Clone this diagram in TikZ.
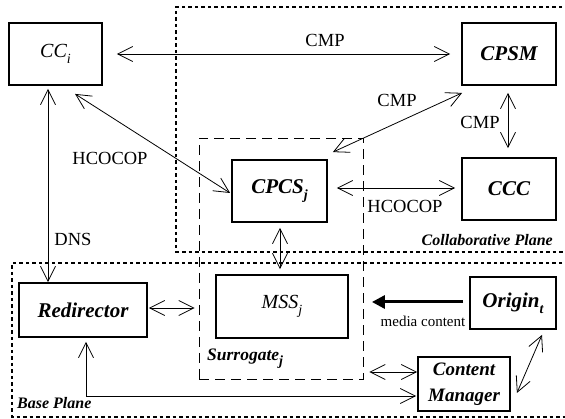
\documentclass[tikz,border=0pt]{standalone}
\usepackage{fontspec}
\setmainfont{Liberation Serif}
\usetikzlibrary{arrows.meta,calc}
\newcommand{\lowsub}[1]{\raisebox{-0.28em}{\fontsize{14}{14}\selectfont #1}}
\begin{document}
\begin{tikzpicture}[x=1pt,y=-1pt,
  box/.style={draw,line width=1.8pt,inner sep=0pt,align=center,
    font=\fontsize{21}{23}\selectfont\bfseries\itshape},
  plainbox/.style={box,font=\fontsize{20}{22}\selectfont\itshape},
  plane/.style={line width=1.5pt,dash pattern=on 3.5pt off 3pt},
  surr/.style={line width=0.8pt,dash pattern=on 10pt off 6pt},
  arr/.style={line width=0.8pt,{Straight Barb[length=15pt,width=15pt]}-{Straight Barb[length=15pt,width=15pt]}},
  lab/.style={font=\fontsize{18.5}{20}\selectfont,inner sep=0pt},
  planelab/.style={font=\fontsize{16}{18}\selectfont\bfseries\itshape,inner sep=0pt}]
\useasboundingbox (0,0) rectangle (565,419);

% planes
\draw[plane] (575,7) -| (176,252) -- (575,252);
\draw[plane] (575,263) -| (12,417) -- (575,417);
\node[planelab,anchor=east] at (553,240) {Collaborative Plane};
\node[planelab,anchor=west] at (17,403) {Base Plane};

% surrogate region
\node[surr,draw,minimum width=164pt,minimum height=241pt,inner sep=0pt] (sur) at (281,258.5) {};
\node[planelab,anchor=west,font=\fontsize{17.5}{18}\selectfont\bfseries\itshape] at (207,359) {Surrogate\lowsub{j}};

% components
\node[plainbox,minimum width=93pt,minimum height=62pt] (cc) at (55.5,54) {CC\lowsub{i}};
\node[box,minimum width=94pt,minimum height=62pt] (cpsm) at (509,54) {CPSM};
\node[box,minimum width=95pt,minimum height=62pt] (cpcs) at (279.5,191) {CPCS\lowsub{j}};
\node[box,minimum width=94pt,minimum height=62pt] (ccc) at (509,189) {CCC};
\node[box,minimum width=128pt,minimum height=54pt] (red) at (83,310) {Redirector};
\node[plainbox,minimum width=132pt,minimum height=63pt] (mss) at (282,306.5) {MSS\lowsub{j}};
\node[box,minimum width=86pt,minimum height=52pt] (orig) at (513,303) {Origin\lowsub{t}};
\node[box,minimum width=92pt,minimum height=54pt,
  font=\fontsize{19}{26}\selectfont\bfseries\itshape] (cm) at (464,384) {Content\\Manager};

% connectors
\draw[arr] ($(cc.east)+(14,0)$) -- ($(cpsm.west)+(-11,0)$);
\node[lab] at (325,40) {CMP};
\draw[arr] ($(cc.south)+(19.5,8)$) -- ($(cpcs.west)+(-1,2)$);
\node[lab] at (110,158) {HCOCOP};
\draw[arr] ($(cpsm.south west)+(1,7)$) -- ($(cpcs.north east)+(5,-7)$);
\node[lab] at (397,100) {CMP};
\draw[arr] ($(cpsm.south)+(-1,7)$) -- ($(ccc.north)+(-1,-9)$);
\node[lab] at (480,122) {CMP};
\draw[arr] ($(cpcs.east)+(9,-3)$) -- ($(ccc.west)+(-6,-1)$);
\node[lab] at (405,206) {HCOCOP};
\draw[arr] ($(cc.south)+(-7.5,3)$) -- ($(red.north)+(-35,0)$);
\node[lab] at (73,239) {DNS};
\draw[arr] ($(cpcs.south)+(0.5,5)$) -- ($(mss.north)+(-2,-5)$);
\draw[arr] ($(red.east)+(1,-2)$) -- ($(red.east -| sur.west)+(-4,-2)$);
\draw[line width=3pt,-{Triangle[length=13pt,width=13pt]}] ($(orig.west)+(-6,-1)$) -- ($(mss.east)+(23,-4.5)$);
\node[lab,font=\fontsize{15}{16}\selectfont] at (423,321) {media content};
\draw[arr] ($(cm.west -| sur.east)+(6,-12)$) -- ($(cm.west)+(0,-12)$);
\draw[arr] ($(red.south)+(3,4)$) |- ($(cm.west)+(-1,12)$);
\draw[arr] ($(orig.south)+(29,5)$) -- ($(cm.east)+(6,9)$);
\end{tikzpicture}
\end{document}
